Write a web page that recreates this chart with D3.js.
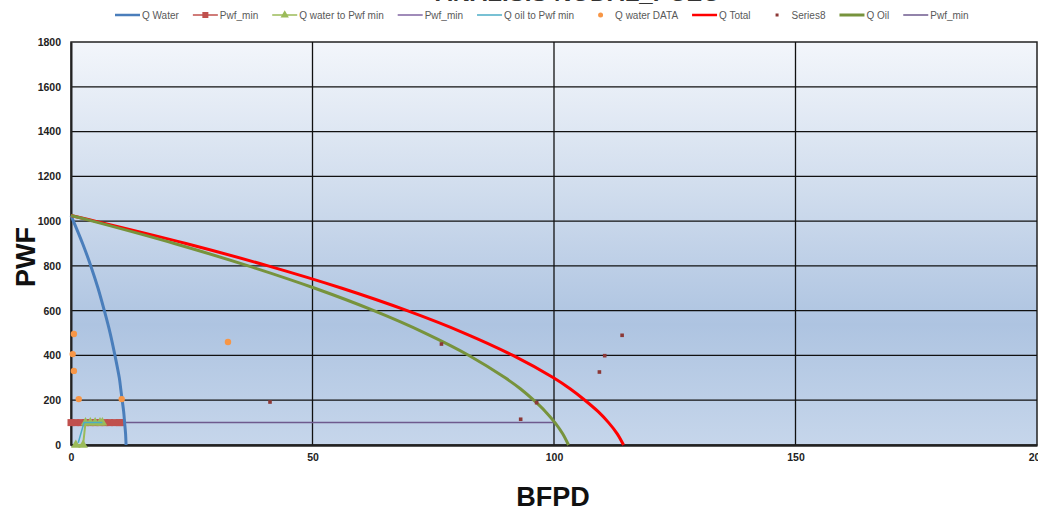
<!DOCTYPE html>
<html><head><meta charset="utf-8">
<script src="https://cdn.jsdelivr.net/npm/d3@7"></script>
<style>
html,body{margin:0;padding:0;background:#fff;overflow:hidden}
svg{display:block}
text{font-family:"Liberation Sans",Arial,sans-serif}
</style></head>
<body>
<svg id="c" width="1038" height="513"></svg>
<script>
// ---- data ----
const titleText = "ANALISIS NODAL_POZO";
const xTicks = [0, 50, 100, 150, 200];
const yTicks = [0, 200, 400, 600, 800, 1000, 1200, 1400, 1600, 1800];
const pwfLevels = [1025, 1000, 900, 800, 700, 600, 500, 400, 300, 250, 200, 150, 100, 50, 0];
const qWater = [0, 0.5, 2.4, 4.1, 5.6, 6.9, 8.1, 9.1, 10.0, 10.3, 10.6, 10.9, 11.1, 11.3, 11.4];
const qOil   = [0, 4.5, 21.4, 36.7, 50.5, 62.7, 73.3, 82.4, 89.9, 93.1, 95.8, 98.2, 100.2, 101.8, 103];
const qTotal = [0, 5.0, 23.8, 40.8, 56.1, 69.6, 81.4, 91.5, 99.9, 103.4, 106.4, 109.1, 111.3, 113.1, 114.4];
const pwfMinRedQ = [0, 1, 2, 3, 4, 5, 6, 7, 8, 9, 10, 10.5];
const pwfMinRedP = [100, 100, 100, 100, 100, 100, 100, 100, 100, 100, 100, 100];
const qwToPwfMinQ = [1.0, 2.5, 3.0, 4.0, 5.0, 6.0, 6.5];
const qwToPwfMinP = [0, 0, 100, 100, 100, 100, 100];
const qoToPwfMinQ = [1.5, 2.7, 6.5];
const qoToPwfMinP = [10, 100, 100];
const pwfMinPurpleQ = [0, 100];
const pwfMinPurpleP = [100, 100];
const waterDataQ = [0.6, 0.35, 0.6, 1.6, 10.5, 32.5];
const waterDataP = [496, 406, 331, 205, 205, 460];
const series8Q = [76.7, 96.4, 93.1, 114.1, 110.5, 109.4, 41.2];
const series8P = [451, 189, 115, 490, 399, 326, 192];
const legendNames = ["Q Water", "Pwf_min", "Q water to Pwf min", "Pwf_min", "Q oil to Pwf min",
  "Q water DATA", "Q Total", "Series8", "Q Oil", "Pwf_min"];

// ---- layout ----
const svg = d3.select("#c");
const L = 71, R = 1037, T = 42, B = 445;
const x = d3.scaleLinear().domain([0, 200]).range([L, R]);
const y = d3.scaleLinear().domain([0, 1800]).range([B, T]);

const defs = svg.append("defs");
const g = defs.append("linearGradient").attr("id", "bg").attr("x1", 0).attr("x2", 0).attr("y1", 0).attr("y2", 1);
[[0, "#f3f6fb"], [0.35, "#d2deee"], [0.7, "#aec4e1"], [1, "#c6d6eb"]].forEach(s =>
  g.append("stop").attr("offset", s[0]).attr("stop-color", s[1]));
defs.append("clipPath").attr("id", "clip").append("rect")
  .attr("x", L - 6).attr("y", T).attr("width", R - L + 6).attr("height", B - T + 4);

svg.append("rect").attr("x", L).attr("y", T).attr("width", R - L).attr("height", B - T)
  .attr("fill", "url(#bg)").attr("stroke", "#222").attr("stroke-width", 1.5);

// grid
svg.append("g").selectAll("line").data(yTicks.filter(v => v > 0 && v < 1800)).join("line")
  .attr("x1", L).attr("x2", R).attr("y1", d => y(d)).attr("y2", d => y(d))
  .attr("stroke", "#111").attr("stroke-width", 1.3);
svg.append("g").selectAll("line").data(xTicks.filter(v => v > 0 && v < 200)).join("line")
  .attr("y1", T).attr("y2", B).attr("x1", d => x(d)).attr("x2", d => x(d))
  .attr("stroke", "#111").attr("stroke-width", 1.3);

// axes
const yAxis = svg.append("g").attr("transform", `translate(${L},0)`)
  .call(d3.axisLeft(y).tickValues(yTicks).tickFormat(d3.format("d")).tickSize(0).tickPadding(10));
const xAxis = svg.append("g").attr("transform", `translate(0,${B})`)
  .call(d3.axisBottom(x).tickValues(xTicks).tickFormat(d3.format("d")).tickSize(0).tickPadding(9));
[yAxis, xAxis].forEach(a => {
  a.select(".domain").attr("stroke", "#222").attr("stroke-width", 2);
  a.selectAll("text").attr("font-size", 10.5).attr("font-weight", "bold").attr("fill", "#222")
    .style("font-family", "'Liberation Sans',Arial,sans-serif");
});
xAxis.select(".domain").attr("stroke-width", 2.5);

// axis titles
svg.append("text").attr("x", 553).attr("y", 506).attr("text-anchor", "middle")
  .attr("font-size", 27).attr("font-weight", "bold").attr("fill", "#111").text("BFPD");
svg.append("text").attr("transform", "translate(35,257) rotate(-90)").attr("text-anchor", "middle")
  .attr("font-size", 27).attr("font-weight", "bold").attr("fill", "#111").text("PWF");

// title (clipped at top, as in the reference)
svg.append("text").attr("x", 578).attr("y", 1).attr("text-anchor", "middle")
  .attr("font-size", 24).attr("font-weight", "bold").attr("fill", "#333").text(titleText);

// series
const plot = svg.append("g").attr("clip-path", "url(#clip)");
const mk = (qs, ps) => qs.map((q, i) => [q, ps[i]]);
const smooth = d3.line().x(d => x(d[0])).y(d => y(d[1])).curve(d3.curveCatmullRom.alpha(0.5));
const straight = d3.line().x(d => x(d[0])).y(d => y(d[1]));

plot.append("path").attr("d", straight(mk(pwfMinPurpleQ, pwfMinPurpleP)))
  .attr("fill", "none").attr("stroke", "#6e5a8e").attr("stroke-width", 1.5);
plot.append("path").attr("d", straight(mk(pwfMinRedQ, pwfMinRedP)))
  .attr("fill", "none").attr("stroke", "#c0504d").attr("stroke-width", 4);
plot.append("g").selectAll("rect").data(mk(pwfMinRedQ, pwfMinRedP)).join("rect")
  .attr("x", d => x(d[0]) - 3.5).attr("y", d => y(d[1]) - 3.5).attr("width", 7).attr("height", 7)
  .attr("fill", "#c0504d");
plot.append("path").attr("d", straight(mk(qwToPwfMinQ, qwToPwfMinP)))
  .attr("fill", "none").attr("stroke", "#9bbb59").attr("stroke-width", 2);
plot.append("g").selectAll("path").data(mk(qwToPwfMinQ, qwToPwfMinP)).join("path")
  .attr("d", d3.symbol(d3.symbolTriangle, 40))
  .attr("transform", d => `translate(${x(d[0])},${y(d[1])})`).attr("fill", "#9bbb59");
plot.append("path").attr("d", straight(mk(qoToPwfMinQ, qoToPwfMinP)))
  .attr("fill", "none").attr("stroke", "#4bacc6").attr("stroke-width", 1.5);
plot.append("path").attr("d", smooth(mk(qWater, pwfLevels)))
  .attr("fill", "none").attr("stroke", "#4a7ebb").attr("stroke-width", 3);
plot.append("path").attr("d", smooth(mk(qTotal, pwfLevels)))
  .attr("fill", "none").attr("stroke", "#ff0000").attr("stroke-width", 3);
plot.append("path").attr("d", smooth(mk(qOil, pwfLevels)))
  .attr("fill", "none").attr("stroke", "#77933c").attr("stroke-width", 3);
plot.append("g").selectAll("circle").data(mk(waterDataQ, waterDataP)).join("circle")
  .attr("cx", d => x(d[0])).attr("cy", d => y(d[1])).attr("r", 3.2).attr("fill", "#f79646");
plot.append("g").selectAll("rect").data(mk(series8Q, series8P)).join("rect")
  .attr("x", d => x(d[0]) - 1.8).attr("y", d => y(d[1]) - 1.8).attr("width", 3.6).attr("height", 3.6)
  .attr("fill", "#8c3836");

// legend
const legendStyle = [
  {c: "#4a7ebb", w: 2.5, type: "line"},
  {c: "#c0504d", w: 1.5, type: "line", m: "sq"},
  {c: "#9bbb59", w: 1.5, type: "line", m: "tri"},
  {c: "#8064a2", w: 1.5, type: "line"},
  {c: "#4bacc6", w: 1.5, type: "line"},
  {c: "#f79646", type: "dot"},
  {c: "#ff0000", w: 2.5, type: "line"},
  {c: "#8c3836", type: "sq"},
  {c: "#77933c", w: 3, type: "line"},
  {c: "#6e5a8e", w: 1.5, type: "line"}
];
const lg = svg.append("g");
let cx = 115;
const ly = 15;
legendNames.forEach((name, i) => {
  const s = legendStyle[i];
  if (s.type === "line") {
    lg.append("line").attr("x1", cx).attr("x2", cx + 25).attr("y1", ly).attr("y2", ly)
      .attr("stroke", s.c).attr("stroke-width", s.w);
    if (s.m === "sq") lg.append("rect").attr("x", cx + 9.5).attr("y", ly - 3).attr("width", 6).attr("height", 6).attr("fill", s.c);
    if (s.m === "tri") lg.append("path").attr("d", d3.symbol(d3.symbolTriangle, 30))
      .attr("transform", `translate(${cx + 12.5},${ly})`).attr("fill", s.c);
  } else if (s.type === "dot") {
    lg.append("circle").attr("cx", cx + 12.5).attr("cy", ly).attr("r", 2.5).attr("fill", s.c);
  } else {
    lg.append("rect").attr("x", cx + 11).attr("y", ly - 1.5).attr("width", 3).attr("height", 3).attr("fill", s.c);
  }
  const t = lg.append("text").attr("x", cx + 27).attr("y", ly + 3.5).attr("font-size", 10)
    .attr("fill", "#595959").text(name);
  cx = cx + 27 + t.node().getComputedTextLength() + 14;
});
</script>
</body></html>
